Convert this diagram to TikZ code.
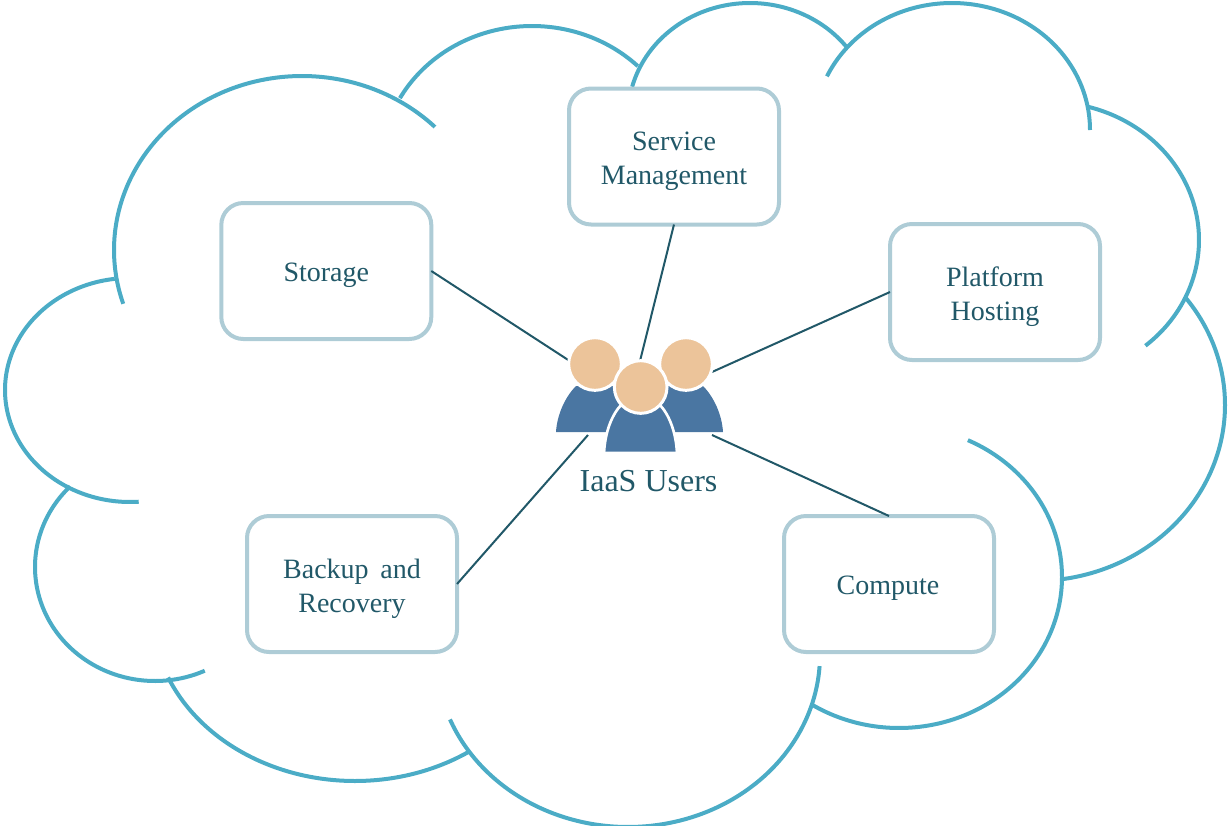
\documentclass[tikz,border=0pt]{standalone}
\usepackage{fontspec}
\setmainfont{Liberation Serif}
\definecolor{cloudblue}{HTML}{4BACC6}
\definecolor{boxline}{HTML}{AECCD6}
\definecolor{inkteal}{HTML}{215868}
\definecolor{bodyblue}{HTML}{4A76A2}
\definecolor{headtan}{HTML}{ECC49A}
\newcommand{\cloudlobe}[6]{\draw[cloudline] plot[smooth,domain=#5:#6,samples=70] ({#1+#3*cos(\x)},{#2+#4*sin(\x)});}
\tikzset{
  cloudline/.style={draw=cloudblue,line width=3pt},
  boxtext/.style={align=center,text=inkteal,inner sep=0pt,yshift=-3.4pt,
    font=\fontsize{21}{25.5}\selectfont},
  svcbox/.style={draw=boxline,fill=white,line width=3pt,rounded corners=16.5pt,outer sep=0pt,inner sep=0pt,
    minimum width=157.5pt,minimum height=102pt},
  link/.style={draw=inkteal,line width=1.5pt},
  bodyshape/.style={fill=bodyblue,draw=none},
  bodyring/.style={fill=bodyblue,draw=white,line width=2pt},
  headshape/.style={circle,fill=headtan,draw=white,line width=2.25pt,minimum size=39.5pt,inner sep=0pt,outer sep=0pt},
}
\begin{document}
\begin{tikzpicture}[x=0.75pt,y=-0.75pt]
\useasboundingbox (0,0) rectangle (1228,825);
\clip (0,0) rectangle (1228,825);
% cloud lobes
\cloudlobe{302}{250}{188}{174}{162}{315}
\cloudlobe{532}{166}{151}{140}{209}{314.5}
\cloudlobe{750}{116}{122}{113}{195}{323}
\cloudlobe{952}{130}{138}{127}{205}{360}
\cloudlobe{1049}{240}{150}{138}{-75}{50}
\cloudlobe{1035}{405}{190}{176}{-38}{81.5}
\cloudlobe{899}{577}{163}{151}{-65}{122}
\cloudlobe{628}{655}{192}{172}{3.7}{158}
\cloudlobe{355}{611}{203}{170}{55.5}{157}
\cloudlobe{155}{567}{120}{114}{65.5}{225}
\cloudlobe{130}{390}{125}{112}{86}{263}
% boxes
\node[svcbox,label={[boxtext]center:{Service\\Management}}] (service) at (674,156.5) {};
\node[svcbox,label={[boxtext]center:{Storage}}] (storage) at (326.3,271) {};
\node[svcbox,label={[boxtext]center:{Platform\\Hosting}}] (platform) at (995,292) {};
\node[svcbox,label={[boxtext]center:{Backup\hspace{0.42em}and\\Recovery}}] (backup) at (352,584) {};
\node[svcbox,label={[boxtext,xshift=-0.75pt]center:{Compute}}] (compute) at (889,584) {};
% connector ends at the user group
\coordinate (ustorage) at (569,360.5);
\coordinate (uservice) at (640,361);
\coordinate (uplatform) at (712,372);
\coordinate (ubackup) at (588,435);
\coordinate (ucompute) at (712,435);
\draw[link] (storage.east) -- (ustorage);
\draw[link] (service.south) -- (uservice);
\draw[link] (platform.west) -- (uplatform);
\draw[link] (backup.east) -- (ubackup);
\draw[link] (compute.north) -- (ucompute);
% users
\fill[bodyshape] (556,432) .. controls (557,415) and (565,397) .. (576,386) -- (618,386) -- (630,432) -- cycle;
\fill[bodyshape] (723,432) .. controls (722,415) and (714,397) .. (703,386) -- (661,386) -- (650,432) -- cycle;
\node[headshape] (headleft) at (595,364) {};
\node[headshape] (headright) at (686,364) {};
\draw[bodyring] (604,453) .. controls (605,432) and (612,414) .. (622,404) -- (659,404) .. controls (669,414) and (676,432) .. (677,453) -- cycle;
\node[headshape] (headmid) at (640.7,387) {};
\node[text=inkteal,font=\fontsize{24}{28}\selectfont,inner sep=0pt] (users) at (648.5,481) {IaaS Users};
\end{tikzpicture}
\end{document}
